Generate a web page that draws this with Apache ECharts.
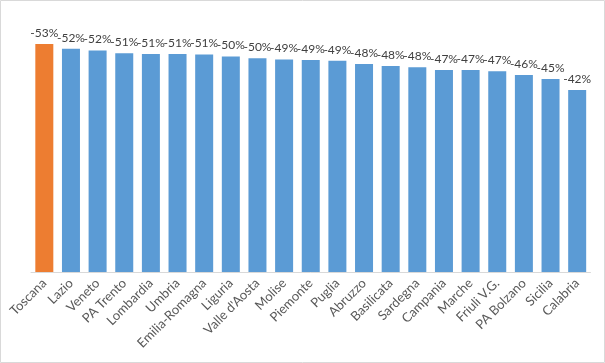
<!DOCTYPE html>
<html>
<head>
<meta charset="utf-8">
<script src="https://cdn.jsdelivr.net/npm/echarts@6/dist/echarts.min.js"></script>
<style>
html,body{margin:0;padding:0;background:#fff;}
#chart{width:605px;height:363px;}
</style>
</head>
<body>
<div id="chart"></div>
<script>
const categories = ["Toscana","Lazio","Veneto","PA Trento","Lombardia","Umbria","Emilia-Romagna","Liguria","Valle d'Aosta","Molise","Piemonte","Puglia","Abruzzo","Basilicata","Sardegna","Campania","Marche","Friuli V.G.","PA Bolzano","Sicilia","Calabria"];
const values = [-53.0,-51.9,-51.5,-50.9,-50.7,-50.7,-50.6,-50.1,-49.7,-49.4,-49.3,-49.1,-48.4,-47.9,-47.6,-47.0,-47.0,-46.7,-45.8,-44.9,-42.3];
const highlight = "Toscana";

const chart = echarts.init(document.getElementById('chart'));
chart.setOption({
  animation: false,
  graphic: [{
    type: 'rect', silent: true, z: -10,
    shape: {x: 0.5, y: 0.5, width: 604, height: 362},
    style: {fill: 'none', stroke: '#d9d9d9', lineWidth: 1}
  }],
  grid: {left: 31, right: 14.5, top: 14, bottom: 91},
  xAxis: {
    type: 'category',
    data: categories,
    axisLine: {lineStyle: {color: '#d9d9d9'}},
    axisTick: {show: false},
    axisLabel: {rotate: 45, interval: 0, color: '#595959', fontFamily: 'Lato', fontSize: 13, margin: 9}
  },
  yAxis: {
    type: 'value', min: -60, max: 0, inverse: true, show: false,
    splitLine: {show: false}
  },
  series: [{
    type: 'bar',
    barWidth: 18,
    data: values.map((v, i) => ({
      value: v,
      itemStyle: {color: categories[i] === highlight ? '#ED7D31' : '#5B9BD5'}
    })),
    label: {
      show: true, position: 'top', distance: 5,
      color: '#404040', fontFamily: 'Lato', fontSize: 12,
      formatter: p => p.value.toFixed(0) + '%'
    }
  }]
});
</script>
</body>
</html>
